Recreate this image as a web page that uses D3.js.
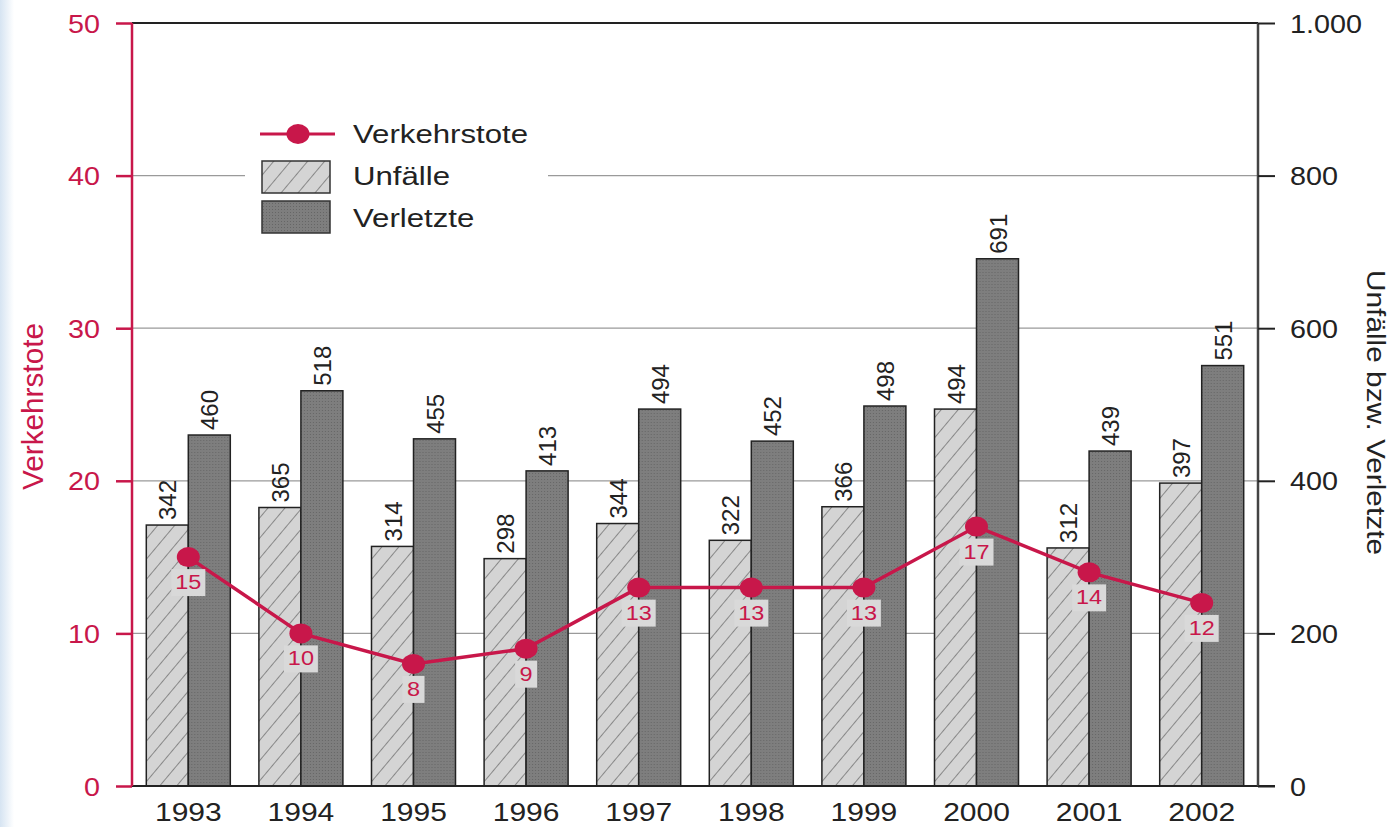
<!DOCTYPE html>
<html>
<head>
<meta charset="utf-8">
<script src="https://cdn.jsdelivr.net/npm/d3@7"></script>
<style>
  body { margin: 0; background: #fff; }
  svg text { font-family: "Liberation Sans", Arial, sans-serif; }
</style>
</head>
<body>
<div id="chart"></div>
<script>
// Verkehrsunfälle 1993-2002
const years = ["1993", "1994", "1995", "1996", "1997", "1998", "1999", "2000", "2001", "2002"];
const unfaelle = [342, 365, 314, 298, 344, 322, 366, 494, 312, 397];
const verletzte = [460, 518, 455, 413, 494, 452, 498, 691, 439, 551];
const tote = [15, 10, 8, 9, 13, 13, 13, 17, 14, 12];
const leftTicks = [0, 10, 20, 30, 40, 50];
const rightTicks = [0, 200, 400, 600, 800, 1000];

const red = "#c8174a";
const W = 1399, H = 827;
const margin = { top: 23, right: 141, bottom: 41, left: 132 };
const width = W - margin.left - margin.right;
const height = H - margin.top - margin.bottom;

// the source font is wider than Liberation Sans, so stretch text sideways
function wide(sel, sx) {
    sel.each(function() {
        const t = d3.select(this);
        const tx = +t.attr("x") || 0, ty = +t.attr("y") || 0;
        t.attr("x", 0).attr("y", 0)
            .attr("transform", `translate(${tx},${ty}) scale(${sx},1)`);
    });
}

const svg = d3.select("#chart").append("svg")
    .attr("width", W).attr("height", H);

const defs = svg.append("defs");
const edge = defs.append("linearGradient").attr("id", "edge");
edge.append("stop").attr("offset", "0%").attr("stop-color", "#d6e4f2");
edge.append("stop").attr("offset", "100%").attr("stop-color", "#fff");
svg.append("rect").attr("width", 14).attr("height", H).attr("fill", "url(#edge)");

const hatch = defs.append("pattern").attr("id", "hatch")
    .attr("patternUnits", "userSpaceOnUse")
    .attr("width", 13).attr("height", 13)
    .attr("patternTransform", "rotate(40)");
hatch.append("rect").attr("width", 13).attr("height", 13).attr("fill", "#d4d4d4");
hatch.append("line").attr("x1", 0).attr("y1", 0).attr("x2", 0).attr("y2", 13)
    .attr("stroke", "#555").attr("stroke-width", 1.2);

const stip = defs.append("pattern").attr("id", "stip")
    .attr("patternUnits", "userSpaceOnUse").attr("width", 3).attr("height", 3);
stip.append("rect").attr("width", 3).attr("height", 3).attr("fill", "#7e7e7e");
stip.append("rect").attr("width", 1).attr("height", 1).attr("fill", "#666");

const g = svg.append("g").attr("transform", `translate(${margin.left},${margin.top})`);

const x = d3.scaleBand().domain(years).range([0, width]);
const yL = d3.scaleLinear().domain([0, 50]).range([height, 0]);
const yR = d3.scaleLinear().domain([0, 1000]).range([height, 0]);
const barW = 42;
const cx = i => x(years[i]) + x.bandwidth() / 2;

// grid lines
g.selectAll(".grid").data(leftTicks.filter(d => d > 0 && d < 50)).join("line")
    .attr("x1", 0).attr("x2", width)
    .attr("y1", d => yL(d)).attr("y2", d => yL(d))
    .attr("stroke", "#9a9a9a").attr("stroke-width", 1.3);

// bars
const groups = g.selectAll(".yr").data(years).join("g")
    .attr("transform", d => `translate(${x(d) + x.bandwidth() / 2},0)`);

groups.append("rect")
    .attr("x", -barW).attr("width", barW)
    .attr("y", (d, i) => yR(unfaelle[i])).attr("height", (d, i) => height - yR(unfaelle[i]))
    .attr("fill", "url(#hatch)").attr("stroke", "#222").attr("stroke-width", 1.5);

groups.append("rect")
    .attr("x", 0).attr("width", barW)
    .attr("y", (d, i) => yR(verletzte[i])).attr("height", (d, i) => height - yR(verletzte[i]))
    .attr("fill", "url(#stip)").attr("stroke", "#222").attr("stroke-width", 1.5);

groups.append("text")
    .attr("transform", (d, i) => `translate(${-barW / 2 + 9},${yR(unfaelle[i]) - 5}) rotate(-90)`)
    .attr("font-size", 24).attr("fill", "#222")
    .text((d, i) => unfaelle[i]);

groups.append("text")
    .attr("transform", (d, i) => `translate(${barW / 2 + 9},${yR(verletzte[i]) - 5}) rotate(-90)`)
    .attr("font-size", 24).attr("fill", "#222")
    .text((d, i) => verletzte[i]);

// legend, white box covering the grid line
const lg = g.append("g").attr("transform", "translate(113,111)");
lg.append("rect").attr("x", 0).attr("y", -12).attr("width", 303).attr("height", 135).attr("fill", "#fff");
lg.append("line").attr("x1", 15).attr("x2", 90).attr("y1", 0).attr("y2", 0)
    .attr("stroke", red).attr("stroke-width", 3);
lg.append("ellipse").attr("cx", 53).attr("cy", 0).attr("rx", 11.5).attr("ry", 10).attr("fill", red);
lg.append("rect").attr("x", 17).attr("y", 27).attr("width", 68).attr("height", 32)
    .attr("fill", "url(#hatch)").attr("stroke", "#333").attr("stroke-width", 1.5);
lg.append("rect").attr("x", 17).attr("y", 67).attr("width", 68).attr("height", 32)
    .attr("fill", "url(#stip)").attr("stroke", "#333").attr("stroke-width", 1.5);
lg.selectAll(".lt").data(["Verkehrstote", "Unfälle", "Verletzte"]).join("text")
    .attr("x", 108).attr("y", (d, i) => i * 42 + 9)
    .attr("font-size", 26).attr("fill", "#222").text(d => d)
    .call(wide, 1.2);

// line
const line = d3.line()
    .x((d, i) => cx(i))
    .y(d => yL(d));
g.append("path").datum(tote).attr("d", line)
    .attr("fill", "none").attr("stroke", red).attr("stroke-width", 3.5);
g.selectAll(".dot").data(tote).join("ellipse")
    .attr("cx", (d, i) => cx(i)).attr("cy", d => yL(d))
    .attr("rx", 11.5).attr("ry", 10).attr("fill", red);

const labs = g.selectAll(".tl").data(tote).join("g")
    .attr("transform", (d, i) => `translate(${cx(i)},${yL(d) + 32})`);
labs.append("rect")
    .attr("x", d => d < 10 ? -11 : -17).attr("y", -20)
    .attr("width", d => d < 10 ? 22 : 34).attr("height", 27)
    .attr("fill", "#d9d9d9");
labs.append("text").attr("text-anchor", "middle").attr("font-size", 21)
    .attr("fill", red).text(d => d)
    .call(wide, 1.12);

// axes
g.append("line").attr("x1", 0).attr("x2", width).attr("y1", 0).attr("y2", 0)
    .attr("stroke", "#222").attr("stroke-width", 2);
g.append("line").attr("x1", 0).attr("x2", width + 17).attr("y1", height).attr("y2", height)
    .attr("stroke", "#222").attr("stroke-width", 2);

const left = g.append("g").call(d3.axisLeft(yL).tickValues(leftTicks).tickSize(16).tickPadding(14));
left.select(".domain").attr("stroke", red).attr("stroke-width", 2.5)
    .attr("d", `M0,${height}V0`);
left.selectAll(".tick line").attr("stroke", red).attr("stroke-width", 2.5);
left.selectAll(".tick text").attr("fill", red).attr("font-size", 25)
    .attr("font-family", "Liberation Sans, Arial, sans-serif")
    .attr("x", -32).attr("dy", "0.36em")
    .call(wide, 1.15);

const fmt = d3.formatLocale({ decimal: ",", thousands: ".", grouping: [3], currency: ["", "€"] }).format(",");
const right = g.append("g").attr("transform", `translate(${width},0)`)
    .call(d3.axisRight(yR).tickValues(rightTicks).tickFormat(fmt).tickSize(17).tickPadding(14));
right.select(".domain").attr("stroke", "#444").attr("stroke-width", 2.5)
    .attr("d", `M0,${height}V0`);
right.selectAll(".tick line").attr("stroke", "#222").attr("stroke-width", 2);
right.selectAll(".tick text").attr("fill", "#222").attr("font-size", 25)
    .attr("font-family", "Liberation Sans, Arial, sans-serif")
    .attr("x", 32).attr("dy", "0.36em")
    .call(wide, 1.15);

const bottom = g.append("g").attr("transform", `translate(0,${height})`)
    .call(d3.axisBottom(x).tickSize(0));
bottom.select(".domain").remove();
bottom.selectAll(".tick text").attr("fill", "#222").attr("font-size", 25)
    .attr("font-family", "Liberation Sans, Arial, sans-serif")
    .attr("y", 35).attr("dy", 0)
    .call(wide, 1.2);

// axis titles
svg.append("text")
    .attr("transform", `translate(43,${margin.top + height / 2 + 2}) rotate(-90)`)
    .attr("text-anchor", "middle").attr("font-size", 29).attr("fill", red)
    .attr("textLength", 167).attr("lengthAdjust", "spacingAndGlyphs")
    .text("Verkehrstote");
svg.append("text")
    .attr("transform", `translate(1367,${margin.top + height / 2 + 8}) rotate(90)`)
    .attr("text-anchor", "middle").attr("font-size", 25).attr("fill", "#222")
    .attr("textLength", 285).attr("lengthAdjust", "spacingAndGlyphs")
    .text("Unfälle bzw. Verletzte");
</script>
</body>
</html>
